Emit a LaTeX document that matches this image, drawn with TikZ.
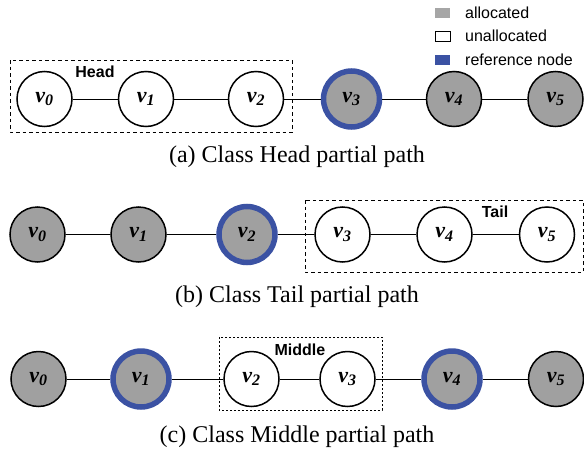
\documentclass[tikz,border=0pt]{standalone}
\usepackage{fontspec}
\setmainfont{Liberation Serif}
\setsansfont{Liberation Sans}
\definecolor{refblue}{HTML}{3B52A3}
\definecolor{alloc}{HTML}{A0A0A0}
\definecolor{legalloc}{HTML}{A6A6A6}
\tikzset{
  vnode/.style={circle, draw=black, line width=1.5pt, minimum size=55pt, inner sep=0pt, font=\fontsize{22}{22}\selectfont\bfseries\itshape},
  allocnode/.style={vnode, fill=alloc},
  freenode/.style={vnode, fill=white},
  refnode/.style={vnode, fill=alloc, draw=refblue, line width=5.5pt, minimum size=56pt},
  edge/.style={line width=1pt, black},
  groupbox/.style={draw=black, line width=0.8pt, dash pattern=on 3.5pt off 3pt},
  groupboxdot/.style={draw=black, line width=0.8pt, dash pattern=on 2pt off 2pt},
  grouplabel/.style={font=\sffamily\bfseries\fontsize{16}{16}\selectfont, inner sep=0pt},
  caption/.style={font=\fontsize{24}{24}\selectfont, inner sep=0pt},
  legsq/.style={minimum width=15pt, minimum height=10pt, inner sep=0pt},
  legtext/.style={font=\sffamily\fontsize{16}{16}\selectfont, anchor=west, inner sep=0pt}
}
\newcommand{\vlab}[1]{v\textsubscript{\fontsize{16}{16}\selectfont #1}}
\begin{document}
\begin{tikzpicture}[x=1pt,y=-1pt]
\useasboundingbox (0,0) rectangle (584,458);
% legend
\node[legsq, fill=legalloc] (la) at (442.5,12.5) {};
\node[legsq, draw=black, line width=1pt, fill=white] (lu) at (442.5,36) {};
\node[legsq, fill=refblue] (lr) at (442.5,59.5) {};
\node[legtext] (lat) at (465,12.5) {allocated};
\node[legtext] (lut) at (465,36) {unallocated};
\node[legtext] (lrt) at (465,59.5) {reference node};

% row (a)
\draw[groupbox] (10,60) rectangle (292,132);
\node[grouplabel] (head) at (95,72) {Head};
\node[freenode] (a0) at (44.5,99) {\vlab{0}};
\node[freenode] (a1) at (146,99) {\vlab{1}};
\node[freenode] (a2) at (256,99) {\vlab{2}};
\node[refnode] (a3) at (351.5,99) {\vlab{3}};
\node[allocnode] (a4) at (454,99) {\vlab{4}};
\node[allocnode] (a5) at (555.5,99) {\vlab{5}};
\draw[edge] (a0) -- (a1);
\draw[edge] (a1) -- (a2);
\draw[edge] (a2) -- (a3);
\draw[edge] (a3) -- (a4);
\draw[edge] (a4) -- (a5);
\node[caption] (capa) at (297,157) {(a) Class Head partial path};

% row (b)
\draw[groupbox] (305,200) rectangle (583,272);
\node[grouplabel] (tail) at (495,212) {Tail};
\node[allocnode] (b0) at (37.5,234.5) {\vlab{0}};
\node[allocnode] (b1) at (138.5,234.5) {\vlab{1}};
\node[refnode] (b2) at (247,234.5) {\vlab{2}};
\node[freenode] (b3) at (342.5,234.5) {\vlab{3}};
\node[freenode] (b4) at (444.5,234.5) {\vlab{4}};
\node[freenode] (b5) at (547,234.5) {\vlab{5}};
\draw[edge] (b0) -- (b1);
\draw[edge] (b1) -- (b2);
\draw[edge] (b2) -- (b3);
\draw[edge] (b3) -- (b4);
\draw[edge] (b4) -- (b5);
\node[caption] (capb) at (297,297) {(b) Class Tail partial path};

% row (c)
\draw[groupboxdot] (219,337) rectangle (382,410);
\node[grouplabel] (middle) at (300,350) {Middle};
\node[allocnode] (c0) at (38.5,379) {\vlab{0}};
\node[refnode] (c1) at (141,379) {\vlab{1}};
\node[freenode] (c2) at (251.5,379) {\vlab{2}};
\node[freenode] (c3) at (347.5,379) {\vlab{3}};
\node[refnode] (c4) at (452,379) {\vlab{4}};
\node[allocnode] (c5) at (556,379) {\vlab{5}};
\draw[edge] (c0) -- (c1);
\draw[edge] (c1) -- (c2);
\draw[edge] (c2) -- (c3);
\draw[edge] (c3) -- (c4);
\draw[edge] (c4) -- (c5);
\node[caption] (capc) at (297,437) {(c) Class Middle partial path};
\end{tikzpicture}
\end{document}
